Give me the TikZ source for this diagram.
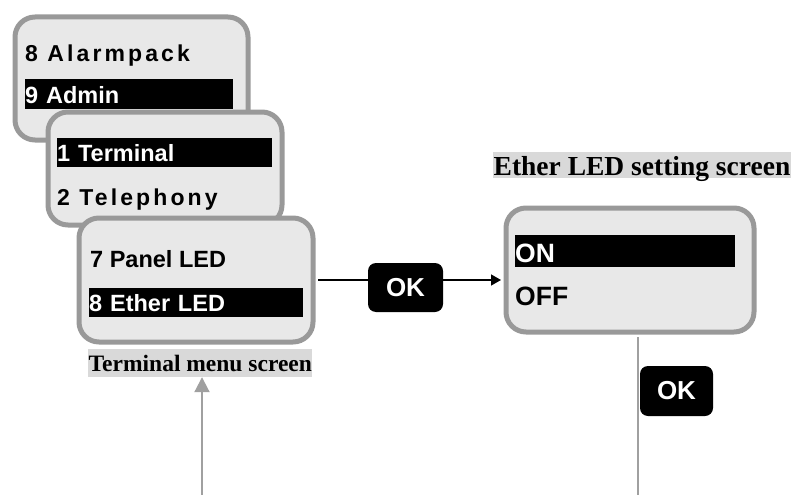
\documentclass[tikz,border=0pt]{standalone}
\usepackage{fontspec}
\setmainfont{Liberation Serif}
\newfontfamily\sansf{Liberation Sans}
\newfontfamily\sansfsp[LetterSpace=13.5]{Liberation Sans}
\usetikzlibrary{arrows.meta}
\definecolor{frame}{HTML}{999999}
\definecolor{screenbg}{HTML}{E8E8E8}
\definecolor{capbg}{HTML}{D9D9D9}
\definecolor{linkgray}{HTML}{A0A0A0}
\begin{document}
\begin{tikzpicture}[x=1pt,y=-1pt,
  screen/.style={draw=frame, fill=screenbg, line width=5pt, rounded corners=20pt,
    inner sep=0pt, anchor=north west},
  menufont/.style={font=\sansf\bfseries\fontsize{23.5}{23.5}\selectfont},
  menufontsp/.style={font=\sansfsp\bfseries\fontsize{23}{23}\selectfont},
  setfont/.style={font=\sansf\bfseries\fontsize{26.5}{26.5}\selectfont},
  hl/.style={fill=black, text=white, inner sep=0pt, anchor=north west, align=left},
  plain/.style={inner sep=0pt, anchor=base west, text=black},
  okbtn/.style={fill=black, text=white, rounded corners=8pt, inner sep=0pt,
    font=\sansf\bfseries\fontsize{26}{26}\selectfont},
  caption/.style={fill=capbg, inner xsep=0.5pt, inner ysep=0pt, anchor=base west,
    font=\bfseries}
]
\useasboundingbox (0,0) rectangle (795,495);

% screen 1
\node[screen, minimum width=233pt, minimum height=123pt] (box1) at (12.5,14.5) {};
\node[plain, menufontsp] (t1) at (25,62) {8 Alarmpack};
\node[hl, menufont, text width=208pt, text height=24pt, text depth=6pt] (h1) at (25,79) {9 Admin};

% screen 2
\node[screen, minimum width=234pt, minimum height=113pt] (box2) at (45.5,109.5) {};
\node[hl, menufont, text width=215pt, text height=23pt, text depth=6pt] (h2) at (57,138) {1 Terminal};
\node[plain, menufontsp] (t2) at (57,205) {2 Telephony};

% screen 3
\node[screen, minimum width=234pt, minimum height=124pt] (box3) at (76.5,215.5) {};
\node[plain, menufont] (t3) at (90,267) {7 Panel LED};
\node[hl, menufont, text width=214pt, text height=23pt, text depth=6pt] (h3) at (89,288) {8 Ether LED};

% screen 4
\node[screen, minimum width=248pt, minimum height=124pt] (box4) at (503.5,205.5) {};
\node[hl, setfont, text width=220pt, text height=27pt, text depth=5pt] (h4) at (515,235) {ON};
\node[plain, setfont] (t4) at (515,305) {OFF};

% OK buttons
\node[okbtn, minimum width=75pt, minimum height=49pt] (ok1) at (405.5,287.5) {OK\hspace{12pt}};
\node[okbtn, minimum width=73pt, minimum height=50pt] (ok2) at (676.5,391) {OK\hspace{12pt}};

% captions
\node[caption, font=\bfseries\fontsize{23.5}{23.5}\selectfont, text height=22.7pt, text depth=5.3pt] (cap1) at (88,371.7) {Terminal menu screen};
\node[caption, font=\bfseries\fontsize{27.5}{27.5}\selectfont, text height=23pt, text depth=3pt] (cap2) at (493,175) {Ether LED setting screen};

% connectors
\coordinate (ly) at (0,280);
\coordinate (bx) at (638,495);
\coordinate (ax) at (202,495);
\draw[line width=1.5pt, shorten <=2.5pt] (box3.east |- ly) -- (ok1.west |- ly);
\draw[line width=1.5pt, shorten >=2.5pt, -{Triangle[length=10pt,width=11pt]}] (ok1.east |- ly) -- (box4.west |- ly);
\draw[linkgray, line width=2pt, shorten <=2.5pt] (box4.south -| bx) -- (bx);
\draw[linkgray, line width=2pt, -{Triangle[length=15pt,width=15pt]}] (ax) -- (cap1.south -| ax);
\end{tikzpicture}
\end{document}
